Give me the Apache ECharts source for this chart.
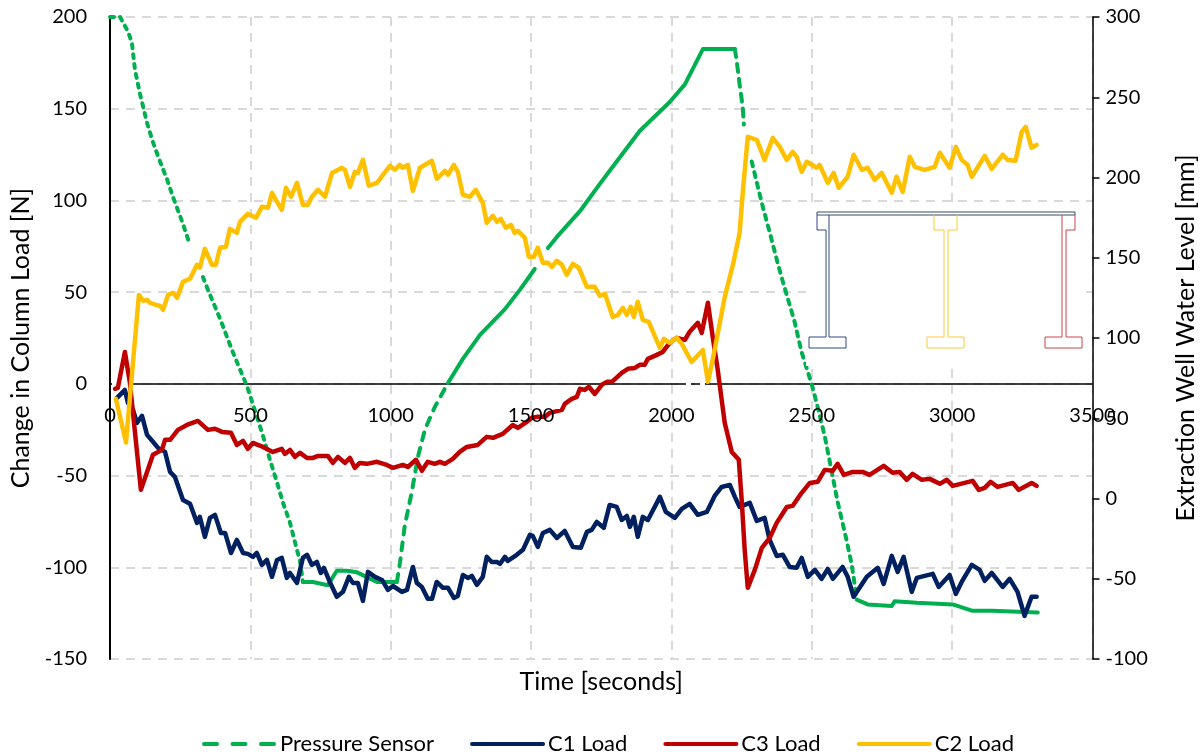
<!DOCTYPE html>
<html>
<head>
<meta charset="utf-8">
<style>html,body{margin:0;padding:0;background:#fff}#c{width:1202px;height:755px}</style>
<script src="https://cdn.jsdelivr.net/npm/echarts@6/dist/echarts.min.js"></script>
</head>
<body>
<div id="c"></div>
<script>
const xTickValues = [0, 500, 1000, 1500, 2000, 2500, 3000, 3500];
const seriesNames = ['Pressure Sensor', 'C1 Load', 'C3 Load', 'C2 Load'];

const c2Load = [[21,-8.2],[57,-32],[103,48.5],[118,45.3],[132,45.8],[142,44.2],[164,43.1],[178,42.5],[189,40.4],[207,48.5],[224,49.6],[239,46.9],[260,55.6],[285,57.3],[310,64.9],[320,63.3],[338,73.6],[363,64.9],[377,64.9],[392,74.2],[413,74.7],[427,84.5],[452,82.3],[463,88.3],[491,92.7],[520,90.5],[541,96.5],[563,96],[577,104.2],[595,99.2],[612,94.9],[627,106.9],[645,102],[666,109.6],[687,97.6],[705,97.6],[719,102],[741,105.8],[766,102],[791,115],[826,117.8],[837,116.7],[855,107.4],[872,115.6],[883,115],[901,122.1],[922,108],[951,109.6],[997,118.9],[1015,116.7],[1032,119.4],[1043,117.8],[1061,119.4],[1079,105.2],[1104,117.8],[1147,121.6],[1164,111.8],[1193,116.1],[1204,114],[1225,119.4],[1239,115.6],[1257,103.1],[1282,102],[1303,105.8],[1328,98.7],[1342,87.8],[1364,91.6],[1378,88.3],[1392,90],[1410,85.1],[1428,86.7],[1442,82.3],[1453,83.4],[1478,79.6],[1492,69.3],[1510,69.3],[1524,74.2],[1542,66],[1560,66],[1574,63.8],[1592,67.1],[1610,64.9],[1627,59.4],[1649,65.4],[1670,63.3],[1699,52.9],[1727,52.9],[1745,48],[1763,49.1],[1791,36.5],[1809,37.6],[1827,41.4],[1841,37.6],[1855,42],[1866,36.5],[1880,44.7],[1898,34.9],[1919,33.8],[1959,19.6],[1973,24.5],[1994,22.4],[2019,25.1],[2037,21.8],[2072,12],[2112,18.5],[2130,1.1],[2147,13.1],[2190,47.4],[2219,64.9],[2243,82.3],[2254,104.2],[2272,134.7],[2304,133],[2332,122.1],[2361,134.1],[2386,129.2],[2411,122.1],[2432,126.5],[2446,123.8],[2464,115.6],[2482,121.1],[2518,117.8],[2528,119.4],[2557,109.6],[2578,115],[2596,106.9],[2628,112.9],[2649,124.9],[2678,116.7],[2699,117.8],[2724,111.2],[2749,115],[2785,104.2],[2802,112.9],[2824,104.7],[2849,123.8],[2867,118.3],[2902,116.7],[2938,118.3],[2956,126],[2991,117.8],[3013,129.2],[3034,122.1],[3055,119.4],[3070,112.9],[3116,124.3],[3141,117.2],[3180,124.9],[3198,122.1],[3226,121.6],[3248,137.4],[3262,140.1],[3283,128.7],[3301,130.3]];

const c3Load = [[18,-2.7],[28,-2.2],[53,17.4],[71,0.5],[110,-57.8],[132,-48],[153,-38.7],[185,-36],[196,-30.5],[214,-30.5],[242,-25.1],[274,-22.4],[313,-20.2],[349,-25.1],[374,-24.5],[399,-26.2],[431,-26.7],[452,-33.3],[474,-31.1],[491,-35.4],[509,-32.2],[545,-34.4],[580,-37.1],[612,-35.4],[623,-38.2],[641,-36],[659,-39.8],[677,-37.6],[702,-40.4],[723,-40.4],[741,-39.3],[776,-39.3],[794,-43.1],[812,-39.8],[837,-43.1],[855,-40.4],[872,-45.8],[890,-43.1],[915,-43.6],[951,-42.5],[986,-44.2],[1008,-45.8],[1043,-44.2],[1061,-45.3],[1090,-41.4],[1111,-47.4],[1132,-42.5],[1157,-43.6],[1175,-42.5],[1193,-43.6],[1221,-40.9],[1246,-37.1],[1271,-34.4],[1310,-33.3],[1342,-28.9],[1364,-29.4],[1399,-27.3],[1435,-22.4],[1453,-24],[1485,-20.7],[1503,-18.5],[1521,-18],[1549,-18],[1567,-15.8],[1610,-14.2],[1620,-10.9],[1645,-8.2],[1663,-7.1],[1674,-2.7],[1691,-3.3],[1706,-1.6],[1727,-5.5],[1752,-0.5],[1770,1.1],[1788,1.1],[1823,6],[1845,8.2],[1870,8.7],[1887,10.4],[1905,10.4],[1916,13.6],[1948,15.8],[1969,17.4],[1994,22.4],[2019,25.1],[2048,24],[2065,28.4],[2094,33.3],[2108,27.8],[2130,44.2],[2147,25.6],[2165,7.6],[2179,-8.7],[2190,-21.3],[2215,-37.1],[2240,-41.4],[2251,-64.9],[2261,-90.5],[2272,-111.2],[2297,-101.4],[2322,-89.4],[2350,-84],[2375,-75.8],[2411,-67.1],[2432,-66.5],[2464,-59.4],[2493,-54],[2521,-53.4],[2546,-46.9],[2575,-47.4],[2592,-43.6],[2614,-49.6],[2646,-48],[2681,-48],[2706,-49.6],[2756,-44.7],[2788,-48.5],[2813,-48],[2838,-52.3],[2859,-49.1],[2892,-52.3],[2920,-51.8],[2956,-54.5],[2981,-52.3],[3002,-55.6],[3073,-52.9],[3095,-57.8],[3116,-56.7],[3137,-53.4],[3162,-56.2],[3216,-54],[3237,-57.8],[3283,-54],[3301,-55.6]];

const c1Load = [[25,-7.6],[53,-3.3],[64,-10.4],[82,-14.2],[96,-21.3],[114,-17.4],[132,-27.8],[153,-31.6],[171,-34.9],[196,-37.1],[214,-48],[231,-50.7],[260,-63.3],[285,-65.4],[310,-75.8],[320,-72.5],[338,-83.4],[356,-73.1],[374,-71.4],[395,-81.3],[410,-81.3],[431,-92.2],[452,-85.1],[474,-92.2],[491,-92.7],[509,-94.3],[523,-92.2],[541,-98.7],[559,-96],[577,-105.2],[595,-96],[612,-94.9],[630,-105.8],[641,-103.1],[666,-108.5],[687,-94.9],[702,-93.2],[719,-98.7],[737,-97.1],[751,-103.1],[762,-100.3],[783,-108],[808,-116.1],[830,-113.4],[851,-105.2],[865,-108.5],[883,-108.5],[901,-118.3],[919,-102.5],[944,-105.2],[969,-106.9],[990,-112.3],[1008,-110.2],[1040,-113.4],[1058,-112.3],[1079,-99.8],[1093,-108.5],[1111,-110.7],[1132,-117.2],[1147,-117.2],[1164,-108],[1186,-111.2],[1204,-111.2],[1225,-116.7],[1239,-115.6],[1257,-104.2],[1275,-105.8],[1289,-104.7],[1307,-109.6],[1328,-105.2],[1342,-94.3],[1360,-97.1],[1378,-97.1],[1389,-98.2],[1407,-94.3],[1417,-96.5],[1449,-93.2],[1471,-90.5],[1496,-82.3],[1506,-82.9],[1524,-88.9],[1542,-81.3],[1567,-79.6],[1592,-84],[1620,-80.2],[1649,-88.9],[1677,-89.4],[1699,-80.7],[1716,-79.6],[1734,-75.3],[1759,-78.5],[1780,-66],[1805,-67.1],[1823,-74.2],[1841,-72],[1852,-78],[1866,-72.5],[1880,-83.4],[1898,-72.5],[1916,-74.2],[1948,-64.9],[1959,-61.6],[1980,-69.8],[2012,-73.1],[2037,-68.2],[2065,-65.4],[2094,-71.4],[2126,-69.8],[2154,-61.1],[2179,-56.2],[2208,-55.1],[2226,-61.6],[2243,-67.1],[2279,-64.9],[2304,-74.7],[2332,-73.1],[2350,-85.1],[2375,-93.8],[2397,-93.2],[2421,-99.8],[2446,-100.3],[2464,-94.9],[2486,-105.2],[2511,-101.4],[2535,-106.3],[2557,-100.9],[2575,-106.3],[2610,-99.8],[2628,-105.2],[2649,-116.1],[2696,-105.2],[2735,-100.3],[2756,-109.1],[2785,-93.8],[2806,-102.5],[2827,-94.3],[2856,-113.4],[2874,-105.8],[2931,-103.6],[2952,-110.7],[2991,-104.2],[3013,-114.5],[3034,-108],[3070,-98.7],[3098,-101.4],[3116,-107.4],[3141,-103.1],[3180,-110.7],[3205,-106.3],[3233,-113.4],[3258,-126.5],[3283,-116.1],[3301,-116.1]];

const pressureFallA = [[0,300],[36,300],[64,291],[78,284],[89,267],[107,252],[132,234],[153,222],[178,210],[203,199],[224,188],[256,173],[285,158]];
const pressureFallB = [[331,138],[349,130],[392,112],[438,91],[488,70],[516,55],[545,39],[570,24],[595,10],[616,-2.5],[641,-15],[666,-32],[677,-39],[687,-52]];
const pressureTrough = [[687,-52],[723,-52],[776,-54],[808,-45],[844,-45],[880,-46],[915,-49],[951,-52],[986,-52],[1022,-52]];
const pressureRiseA = [[1022,-52],[1033,-40],[1050,-17],[1075,4],[1097,26],[1122,43],[1157,57],[1204,72]];
const pressureRiseB = [[1204,72],[1257,87],[1318,102],[1407,118],[1460,130],[1513,143]];
const pressureRiseC = [[1560,156],[1592,163],[1674,179],[1745,196],[1805,210],[1887,229],[1994,247],[2048,258],[2083,270],[2112,280],[2226,280]];
const pressureDropA = [[2226,280],[2233,272],[2243,258],[2254,244],[2258,233]];
const pressureDropB = [[2286,210],[2304,197],[2325,182],[2350,166],[2375,149],[2397,135],[2439,110],[2464,91],[2475,85],[2500,71],[2521,57],[2546,39],[2564,23],[2592,-2],[2624,-26],[2642,-41],[2649,-49],[2660,-63]];
const pressureTail = [[2660,-63],[2699,-66],[2785,-67],[2795,-64],[2874,-65],[3002,-66],[3073,-70],[3144,-70],[3305,-71]];

const FONT = 'Lato';
const GREEN = '#00B050', NAVY = '#002060', RED = '#C00000', GOLD = '#FFC000';

function greenSeg(data, type, w) {
  return { name: seriesNames[0], type: 'line', xAxisIndex: 0, yAxisIndex: 1, data, symbol: 'none', showSymbol: false,
    lineStyle: { color: GREEN, width: w || 4, type, cap: 'round', join: 'round' }, itemStyle: { color: GREEN }, z: 2 };
}
function loadSeries(name, data, color) {
  return { name, type: 'line', xAxisIndex: 0, yAxisIndex: 0, data, symbol: 'none', showSymbol: false,
    lineStyle: { color, width: 4.5, cap: 'round', join: 'round' }, itemStyle: { color }, z: 2 };
}
function poly(points, stroke, lw) {
  return { type: 'polyline', z: 6, silent: true, shape: { points }, style: { stroke, fill: null, lineWidth: lw || 1 } };
}

const chart = echarts.init(document.getElementById('c'), null, { renderer: 'canvas' });
const tickFont = { fontFamily: FONT, fontSize: 20, color: '#000' };
const plain = v => String(v);

chart.setOption({
  animation: false,
  backgroundColor: '#fff',
  textStyle: { fontFamily: FONT },
  grid: { left: 110, right: 109.5, top: 17, bottom: 96, containLabel: false, outerBoundsMode: 'none' },
  xAxis: [
    { type: 'value', min: 0, max: 3500, interval: 500, z: 3,
      axisLine: { show: false, onZero: false },
      axisTick: { show: false },
      axisLabel: Object.assign({ show: true, margin: -253, hideOverlap: false, showMinLabel: true, showMaxLabel: true, formatter: plain }, tickFont),
      splitLine: { show: false },
      name: 'Time [seconds]', nameLocation: 'middle', nameGap: 10, nameMoveOverlap: false,
      nameTextStyle: { fontFamily: FONT, fontSize: 25, color: '#000' } },
    { type: 'value', position: 'bottom', min: 0, max: 3500, interval: 500, z: 0,
      axisLine: { show: true, onZero: true, onZeroAxisIndex: 0, lineStyle: { color: '#000', width: 1.5 } },
      axisTick: { show: false }, axisLabel: { show: false },
      splitLine: { show: true, lineStyle: { color: '#D9D9D9', width: 2, type: [9, 7] } } }
  ],
  yAxis: [
    { type: 'value', min: -150, max: 200, interval: 50, position: 'left',
      axisLine: { show: true, onZero: false, lineStyle: { color: '#000', width: 2 } },
      axisTick: { show: false },
      axisLabel: Object.assign({ margin: 23 }, tickFont),
      splitLine: { show: true, lineStyle: { color: '#D9D9D9', width: 2, type: [9, 7] } },
      name: 'Change in Column Load [N]', nameLocation: 'middle', nameGap: 74, nameRotate: 90,
      nameTextStyle: { fontFamily: FONT, fontSize: 25, color: '#000' } },
    { type: 'value', min: -100, max: 300, interval: 50, position: 'right',
      axisLine: { show: true, onZero: false, lineStyle: { color: '#000', width: 1.5 } },
      axisTick: { show: true, length: 7, inside: false, lineStyle: { color: '#000', width: 1.5 } },
      axisLabel: Object.assign({ margin: 13 }, tickFont),
      splitLine: { show: false },
      name: 'Extraction Well Water Level [mm]', nameLocation: 'middle', nameGap: 81, nameRotate: 90,
      nameTextStyle: { fontFamily: FONT, fontSize: 25, color: '#000' } }
  ],
  legend: {
    top: 728, left: 197, itemWidth: 71, itemHeight: 20, itemGap: 36,
    textStyle: { fontFamily: FONT, fontSize: 22, color: '#000' },
    itemStyle: { opacity: 0 },
    lineStyle: { width: 4 },
    data: [
      { name: seriesNames[0], lineStyle: { type: [13, 15.5], width: 4, cap: 'round', color: GREEN } },
      { name: seriesNames[1] }, { name: seriesNames[2] }, { name: seriesNames[3] }
    ]
  },
  series: [
    greenSeg(pressureFallA, [4, 6]),
    greenSeg(pressureFallB, [4, 6]),
    greenSeg(pressureTrough, 'solid'),
    greenSeg(pressureRiseA, [8, 8]),
    greenSeg(pressureRiseB, 'solid'),
    greenSeg(pressureRiseC, 'solid'),
    greenSeg(pressureDropA, [8, 7]),
    greenSeg(pressureDropB, [5, 6]),
    greenSeg(pressureTail, 'solid'),
    loadSeries(seriesNames[1], c1Load, NAVY),
    loadSeries(seriesNames[2], c3Load, RED),
    loadSeries(seriesNames[3], c2Load, GOLD)
  ],
  graphic: { elements: [
    { type: 'rect', z: 1, silent: true, shape: { x: 112, y: 381, width: 21, height: 7 }, style: { fill: '#fff' } },
    { type: 'rect', z: 1, silent: true, shape: { x: 686, y: 381, width: 5, height: 7 }, style: { fill: '#fff' } },
    { type: 'rect', z: 1, silent: true, shape: { x: 700, y: 381, width: 5, height: 7 }, style: { fill: '#fff' } },
    { type: 'rect', z: 5, silent: true, shape: { x: 806, y: 203, width: 280, height: 163 }, style: { fill: '#fff' } },
    { type: 'rect', z: 6, silent: true, shape: { x: 817, y: 212, width: 258, height: 3 }, style: { fill: '#fff', stroke: '#3B4A63', lineWidth: 1 } },
    poly([[817,215],[817,230],[826,230],[826,337],[809,337],[809,348],[846,348],[846,337],[829,337],[829,215]], '#2F4A86'),
    poly([[934,215],[934,230],[944,230],[944,337],[927,337],[927,348],[964,348],[964,337],[948,337],[948,230],[957,230],[957,215]], '#FFC93C'),
    poly([[1075,215],[1075,230],[1066,230],[1066,337],[1082,337],[1082,348],[1045,348],[1045,337],[1062,337],[1062,215]], '#D0454A')
  ] }
});
</script>
</body>
</html>
